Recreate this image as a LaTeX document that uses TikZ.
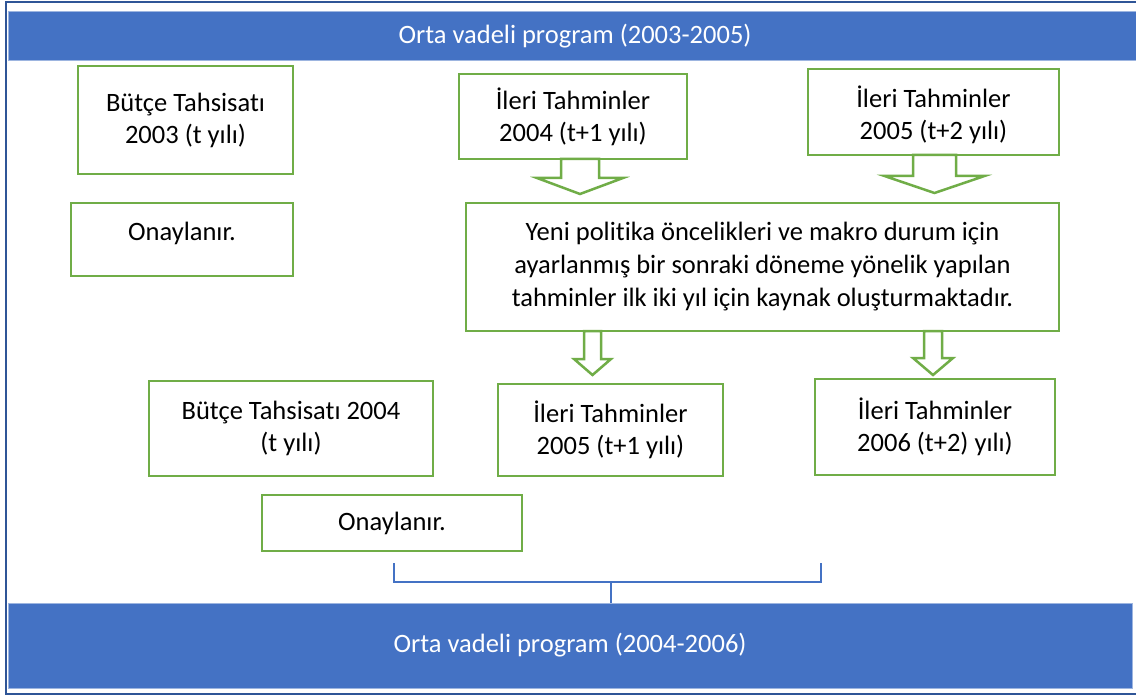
\documentclass[tikz,border=0pt]{standalone}
\usepackage{fontspec}
\setmainfont{Carlito}[RawFeature={-liga;-dlig}]
\definecolor{bgreen}{HTML}{70AD47}
\definecolor{bblue}{HTML}{4472C4}
\definecolor{bdark}{HTML}{2F5597}
\definecolor{bedge}{HTML}{9DB5E0}
\newcommand\myblockarrow[6]{%
  \draw[barrow] ({#1-#5},#2) -- ({#1-#5},#3) -- ({#1-#6},#3) -- (#1,#4)
    -- ({#1+#6},#3) -- ({#1+#5},#3) -- ({#1+#5},#2) -- cycle;}
\begin{document}
\begin{tikzpicture}[x=1pt,y=-1pt,
  box/.style={draw=bgreen, line width=2.5pt, fill=white, inner sep=0pt, align=center,
              font=\fontsize{26.5}{32}\selectfont},
  txt/.style={inner sep=0pt, align=center, font=\fontsize{26.5}{32}\selectfont},
  banner/.style={fill=bblue, draw=bedge, line width=1pt, inner sep=0pt, text=white,
              font=\fontsize{26.5}{32}\selectfont},
  barrow/.style={draw=bgreen, line width=2.5pt, fill=white, line join=miter},
  bracketline/.style={draw=bblue, line width=1.5pt}]
\useasboundingbox (0,0) rectangle (1136,695);
\fill[white] (0,0) rectangle (1136,695);
% outer frame
\draw[bdark, line width=2pt] (6,2.5) rectangle (1142,693.5);
% banners
\node[banner, minimum width=1134pt, minimum height=49pt] (top) at (575,36.5) {Orta vadeli program (2003-2005)};
\node[banner, minimum width=1124pt, minimum height=85pt] (bottom) at (570,645.5) {Orta vadeli program (2004-2006)};
% boxes
\node[box, minimum width=215pt, minimum height=108pt] (b1) at (185.5,120) {Bütçe Tahsisatı\\2003 (t yılı)};
\node[box, minimum width=222pt, minimum height=73pt] (b2) at (182,239.5) {};
\node[txt] (b2t) at (182,233) {Onaylanır.};
\node[box, minimum width=228pt, minimum height=85pt] (b3) at (573,116.5) {İleri Tahminler\\2004 (t+1 yılı)};
\node[box, minimum width=251pt, minimum height=86pt] (b4) at (933.5,112) {};
\node[txt] (b4t) at (933.5,115) {İleri Tahminler\\2005 (t+2 yılı)};
\node[box, minimum width=593pt, minimum height=128pt, font=\fontsize{26.5}{33}\selectfont] (big) at (762.5,267)
  {Yeni politika öncelikleri ve makro durum için\\ayarlanmış bir sonraki döneme yönelik yapılan\\tahminler ilk iki yıl için kaynak oluşturmaktadır.};
\node[box, minimum width=284pt, minimum height=95pt] (b6) at (291,428.5) {Bütçe Tahsisatı 2004\\(t yılı)};
\node[box, minimum width=225pt, minimum height=92pt] (b7) at (610.5,430) {İleri Tahminler\\2005 (t+1 yılı)};
\node[box, minimum width=240pt, minimum height=96pt] (b8) at (935,427) {İleri Tahminler\\2006 (t+2) yılı)};
\node[box, minimum width=260pt, minimum height=56pt] (b9) at (392,523) {Onaylanır.};
% block arrows
\myblockarrow{580}{159}{178}{194}{19}{43}
\myblockarrow{934.5}{155}{176}{193}{21.5}{50}
\myblockarrow{592.5}{331}{359}{375}{8.5}{18.5}
\myblockarrow{933}{331}{358}{375}{9}{20}
% bracket
\coordinate (brl) at (394,563);
\coordinate (brr) at (821,563);
\coordinate (brm) at (611,582);
\draw[bracketline] (brl) -- (brl |- brm) -- (brr |- brm) -- (brr);
\draw[bblue, line width=2pt] (brm) -- (brm |- bottom.north);
\end{tikzpicture}
\end{document}
